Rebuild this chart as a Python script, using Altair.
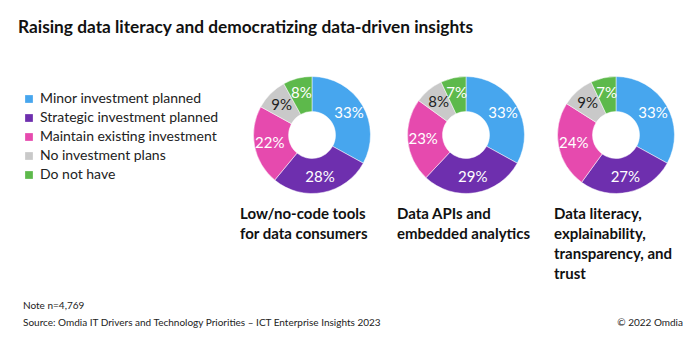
import altair as alt
import pandas as pd

categories = ["Minor investment planned", "Strategic investment planned",
              "Maintain existing investment", "No investment plans", "Do not have"]
colors = ["#47A6EE", "#6E2FAE", "#E64AAE", "#C9C9C9", "#5DB94B"]
label_colors = ["#FFFFFF", "#FFFFFF", "#FFFFFF", "#222222", "#FFFFFF"]

panels = ["Low/no-code tools for data consumers",
          "Data APIs and embedded analytics",
          "Data literacy, explainability, transparency, and trust"]
panel_lines = [["Low/no-code tools", "for data consumers"],
               ["Data APIs and", "embedded analytics"],
               ["Data literacy,", "explainability,", "transparency, and", "trust"]]
values_low_code = [33, 28, 22, 9, 8]
values_apis = [33, 29, 23, 8, 7]
values_literacy = [33, 27, 24, 9, 7]
all_values = [values_low_code, values_apis, values_literacy]

title_text = "Raising data literacy and democratizing data-driven insights"
note_text = "Note n=4,769"
source_text = "Source: Omdia IT Drivers and Technology Priorities \u2013 ICT Enterprise Insights 2023"
copyright_text = "\u00a9 2022 Omdia"

centers_x = [312, 466, 616]
center_y = 135
label_x = [240, 397, 554]

rows = []
for p, vals in enumerate(all_values):
    for i, (c, v) in enumerate(zip(categories, vals)):
        rows.append({"panel": p, "category": c, "order": i, "value": v,
                     "label": f"{v}%", "tcolor": label_colors[i]})
df = pd.DataFrame(rows)

color_scale = alt.Scale(domain=categories, range=colors)
FONT = "Lato"

layers = []
for p in range(3):
    base = alt.Chart(df).transform_filter(alt.datum.panel == p)
    arc = base.mark_arc(innerRadius=23.5, outerRadius=58.5, stroke="white", strokeWidth=0.5).encode(
        theta=alt.Theta("value:Q", stack=True, scale=alt.Scale(domain=[0, 100])),
        color=alt.Color("category:N", scale=color_scale, sort=categories,
                        legend=alt.Legend(title=None, orient="none", legendX=22, legendY=92,
                                          symbolType="square", symbolSize=60, symbolStrokeWidth=0,
                                          labelFont=FONT, labelFontSize=14, labelColor="#222222",
                                          rowPadding=5, labelLimit=0, labelOffset=4) if p == 0 else None),
        order=alt.Order("order:Q"),
        x=alt.value(centers_x[p]),
        y=alt.value(center_y),
    )
    txt = base.mark_text(radius=43, font=FONT, fontSize=15).encode(
        theta=alt.Theta("value:Q", stack=True, scale=alt.Scale(domain=[0, 100])),
        order=alt.Order("order:Q"),
        text="label:N",
        color=alt.Color("tcolor:N", scale=None),
        x=alt.value(centers_x[p]),
        y=alt.value(center_y),
    )
    layers += [arc, txt]

    lab_df = pd.DataFrame({"line": panel_lines[p], "i": list(range(len(panel_lines[p])))})
    lab = alt.Chart(lab_df).mark_text(align="left", baseline="middle", font=FONT, fontSize=15,
                                      fontWeight="bold", color="#111111").encode(
        text="line:N",
        x=alt.value(label_x[p]),
        y=alt.Y("i:Q", scale=alt.Scale(domain=[0, 1], range=[214, 234]), axis=None),
    )
    layers.append(lab)

title = alt.Chart(pd.DataFrame({"t": [title_text]})).mark_text(
    align="left", baseline="middle", font=FONT, fontSize=17.3, fontWeight="bold", color="#111111"
).encode(text="t:N", x=alt.value(18), y=alt.value(28))
note = alt.Chart(pd.DataFrame({"t": [note_text]})).mark_text(
    align="left", baseline="middle", font=FONT, fontSize=10, color="#222222"
).encode(text="t:N", x=alt.value(23), y=alt.value(306))
source = alt.Chart(pd.DataFrame({"t": [source_text]})).mark_text(
    align="left", baseline="middle", font=FONT, fontSize=10, color="#222222"
).encode(text="t:N", x=alt.value(23), y=alt.value(323))
copy = alt.Chart(pd.DataFrame({"t": [copyright_text]})).mark_text(
    align="right", baseline="middle", font=FONT, fontSize=10, color="#222222"
).encode(text="t:N", x=alt.value(683), y=alt.value(323))

chart = alt.layer(*layers, title, note, source, copy).resolve_scale(
    y="independent"
).properties(
    width=700, height=341, padding=0, autosize="none", background="white"
).configure_view(stroke=None)

chart.save("out.html", embed_options={"renderer": "svg", "actions": False})
